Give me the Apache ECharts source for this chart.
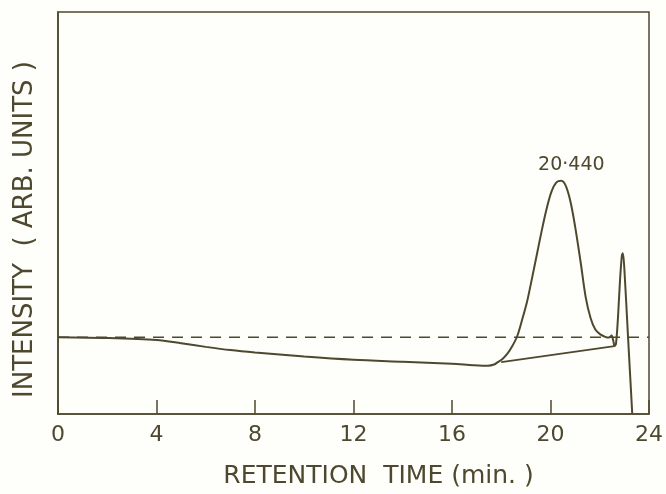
<!DOCTYPE html>
<html>
<head>
<meta charset="utf-8">
<script src="https://cdn.jsdelivr.net/npm/echarts@6/dist/echarts.min.js"></script>
<style>
  html, body { margin: 0; padding: 0; background: #fefefb; }
  #chart { width: 666px; height: 494px; }
</style>
</head>
<body>
<div id="chart"></div>
<script>
// chromatogram trace (retention time in min, intensity in arb. units)
const traceTime = [0, 2, 4, 5, 6, 7, 8, 10, 12, 14, 16, 16.86, 17.46, 17.71, 17.86, 18.05, 18.25, 18.45, 18.65,
  18.85, 19.05, 19.24, 19.44, 19.64, 19.84, 20.04, 20.24, 20.44, 20.63, 20.83, 21.03, 21.23, 21.43, 21.63, 21.82, 22.02,
  22.22, 22.37, 22.48, 22.55, 22.6, 22.66, 22.74, 22.82, 22.9, 22.94, 23.0, 23.15, 23.32];
const traceValue = [19.1, 18.9, 18.4, 17.6, 16.7, 15.9, 15.3, 14.3, 13.5, 13.0, 12.5, 12.15, 12.0, 12.3, 12.9, 13.7, 15.0, 16.9, 19.4,
  23.5, 28.0, 33.5, 39.5, 45.5, 51.0, 55.3, 57.6, 58.0, 56.6, 52.3, 45.5, 37.5, 29.0, 23.8, 21.0, 19.8,
  19.2, 19.0, 19.5, 18.2, 16.9, 17.5, 24.0, 33.0, 39.5, 40.0, 36.0, 19.0, 0];

// dropped baseline under the main peak
const baseTime = [18.0, 22.6];
const baseValue = [12.9, 16.9];

// reference level (dashed)
const refTime = [0, 24];
const refValue = [19.1, 19.1];

const peakLabel = "20·440";
const peakPoint = [20.44, 58.0];

const xTicks = [0, 4, 8, 12, 16, 20, 24];

const ink = "#4d482e";
const font = "'DejaVu Sans', sans-serif";

const chart = echarts.init(document.getElementById("chart"));

const option = {
  backgroundColor: "#fefefb",
  animation: false,
  grid: {
    left: 58,
    right: 8,
    top: 12,
    bottom: 79,
    show: true,
    borderColor: ink,
    borderWidth: 1.5,
  },
  xAxis: {
    type: "value",
    min: xTicks[0],
    max: xTicks[xTicks.length - 1],
    interval: 4,
    name: "RETENTION  TIME (min. )",
    nameLocation: "middle",
    nameGap: 50,
    nameTextStyle: { color: ink, fontFamily: font, fontSize: 25, padding: [0, 0, 0, 50] },
    axisLine: { lineStyle: { color: ink, width: 1.5 } },
    axisTick: { inside: true, length: 14, lineStyle: { color: ink, width: 1.5 } },
    axisLabel: { color: ink, fontFamily: font, fontSize: 22, margin: 10 },
    splitLine: { show: false },
  },
  yAxis: {
    type: "value",
    min: 0,
    max: 100,
    name: "INTENSITY  ( ARB. UNITS )",
    nameLocation: "middle",
    nameGap: 20,
    nameTextStyle: { color: ink, fontFamily: font, fontSize: 26, padding: [0, 33, 0, 0] },
    axisLine: { show: true, lineStyle: { color: ink, width: 1.5 } },
    axisTick: { show: false },
    axisLabel: { show: false },
    splitLine: { show: false },
  },
  series: [
    {
      name: "reference",
      type: "line",
      data: refTime.map((t, i) => [t, refValue[i]]),
      symbol: "none",
      lineStyle: { color: ink, width: 1.5, type: [11, 8] },
      z: 1,
    },
    {
      name: "baseline",
      type: "line",
      data: baseTime.map((t, i) => [t, baseValue[i]]),
      symbol: "none",
      lineStyle: { color: ink, width: 1.8 },
      z: 2,
    },
    {
      name: "trace",
      type: "line",
      data: traceTime.map((t, i) => [t, traceValue[i]]),
      symbol: "none",
      smooth: 0.3,
      lineStyle: { color: ink, width: 2 },
      markPoint: {
        symbol: "circle",
        symbolSize: 0,
        data: [{ coord: peakPoint, value: peakLabel }],
        label: {
          show: true,
          position: "top",
          distance: 6,
          offset: [10, 0],
          formatter: peakLabel,
          color: ink,
          fontFamily: font,
          fontSize: 19,
        },
      },
      z: 3,
    },
  ],
};

chart.setOption(option);
</script>
</body>
</html>
